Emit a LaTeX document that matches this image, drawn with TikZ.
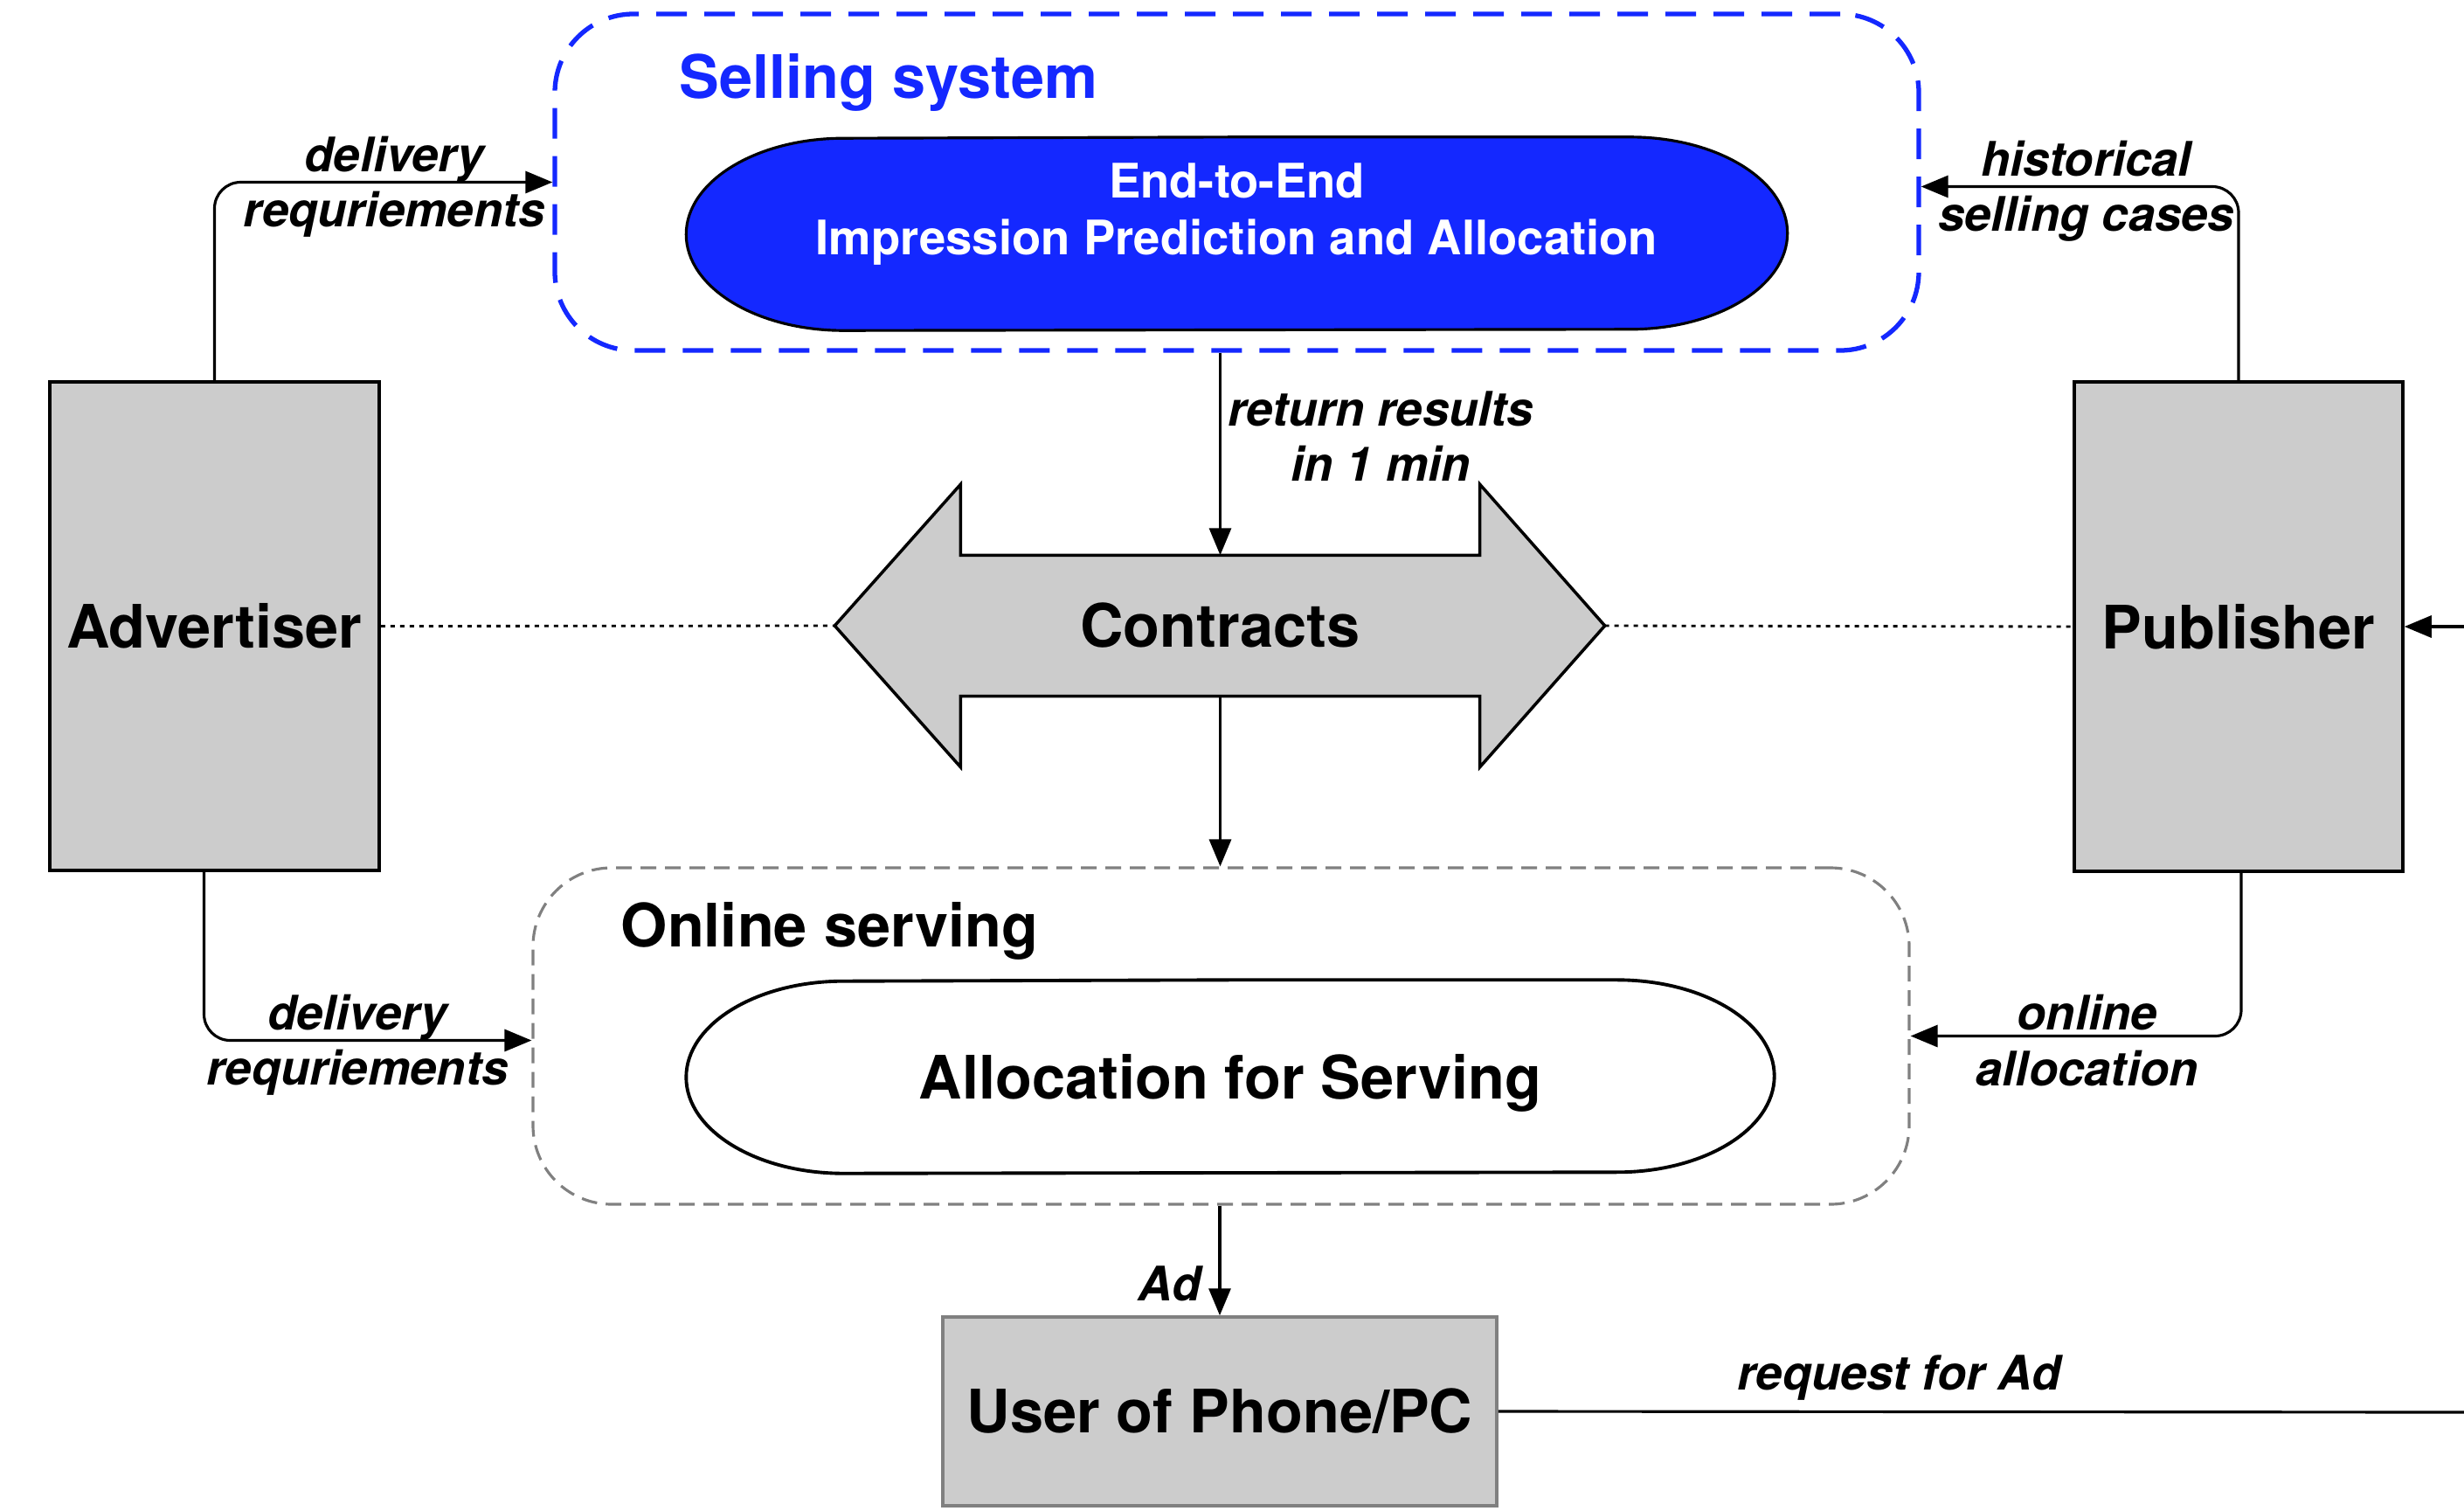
\documentclass[tikz,border=0pt]{standalone}
\usepackage{fontspec}
\setmainfont{TeX Gyre Heros}
\usepackage{tikz}
\usetikzlibrary{arrows.meta,backgrounds}
\definecolor{sellblue}{RGB}{20,40,255}
\definecolor{boxgray}{RGB}{204,204,204}
\newcommand{\bigfont}{\fontsize{19.5}{23}\selectfont\bfseries}
\newcommand{\midfont}{\fontsize{15.5}{18.6}\selectfont\bfseries}
\newcommand{\lblfont}{\fontsize{15.5}{18}\selectfont\bfseries\itshape}
% capsule round a node: #1 node, #2 options
\newcommand{\capsule}[2]{%
    \draw[#2] (#1.north) -- ([xshift=-1.8cm]#1.north east)
        arc[start angle=90, end angle=-90, x radius=1.8cm, y radius=1.1cm]
        -- ([xshift=1.8cm]#1.south west)
        arc[start angle=270, end angle=90, x radius=1.8cm, y radius=1.1cm] -- cycle;}
\tikzset{
    party/.style={draw, fill=boxgray, line width=1pt, font=\bigfont, inner sep=0pt}, % grey boxes
    sysbox/.style={rounded corners=0.9cm, inner sep=0pt}, % dashed frames
    flow/.style={-{Triangle[length=0.31cm, width=0.25cm]}, line width=0.9pt, rounded corners=0.3cm},
    lbl/.style={font=\lblfont, align=center, inner sep=0pt, yshift=-0.05cm},
    dotline/.style={line width=0.8pt, dash pattern=on 0.05cm off 0.06cm}
}

\begin{document}
\begin{tikzpicture}
    \useasboundingbox (0,0) rectangle (28.2,-17.29);

    \node[sysbox, draw=sellblue, line width=1.5pt, dash pattern=on 0.35cm off 0.2cm, minimum width=15.61cm, minimum height=3.85cm] (sell) at (14.155,-2.085) {};
    \node[anchor=west, inner sep=0pt, font=\bigfont, text=sellblue] (selltitle) at (7.77,-0.94) {Selling system};
    \node[inner sep=0pt, minimum width=12.59cm, minimum height=2.2cm] (pred) at (14.155,-2.675) {};
    \node[font=\midfont, text=white, align=center, inner sep=0pt] (predtxt) at (14.155,-2.45) {End-to-End\\Impression Prediction and Allocation};

    \node[sysbox, draw=gray, line width=0.9pt, dash pattern=on 0.18cm off 0.1cm, minimum width=15.75cm, minimum height=3.85cm] (online) at (13.975,-11.855) {};
    \node[anchor=west, inner sep=0pt, font=\bigfont] (onlinetitle) at (7.10,-10.65) {Online serving};
    \node[font=\bigfont, inner sep=0pt, text depth=0pt, minimum width=12.44cm, minimum height=2.2cm] (alloc) at (14.08,-12.32) {Allocation for Serving};

    \node[party, minimum width=3.77cm, minimum height=5.59cm] (adv) at (2.455,-7.165) {Advertiser};
    \node[party, minimum width=3.76cm, minimum height=5.6cm] (pub) at (25.62,-7.17) {Publisher};
    \node[party, draw=gray, minimum width=6.34cm, minimum height=2.16cm] (user) at (13.96,-16.15) {User of Phone/PC};
    \node[font=\bigfont, inner sep=0pt, minimum width=5.93cm, minimum height=1.6cm] (contracts) at (13.965,-7.16) {Contracts};

    \coordinate (ltip) at ([xshift=-1.44cm]contracts.west);
    \coordinate (rtip) at ([xshift=1.43cm]contracts.east);
    \coordinate (rimtop) at (28.2,-7.17);
    \coordinate (rimbot) at (28.2,-16.16);

    \begin{pgfonlayer}{background}
        \capsule{pred}{fill=sellblue, line width=0.9pt}
        \capsule{alloc}{fill=white, line width=1.1pt}
        \filldraw[fill=boxgray, line width=1pt] (contracts.north west) -- ([yshift=0.81cm]contracts.north west) -- (ltip)
            -- ([yshift=-0.81cm]contracts.south west) -- (contracts.south west) -- (contracts.south east)
            -- ([yshift=-0.81cm]contracts.south east) -- (rtip) -- ([yshift=0.81cm]contracts.north east)
            -- (contracts.north east) -- cycle;
    \end{pgfonlayer}

    \draw[dotline] (adv.east) -- (ltip);
    \draw[dotline] (rtip) -- (pub.west);

    \draw[flow] (adv.north) |- node[lbl, pos=0.766] (advsell) {delivery\\requriements} (sell.west);
    \draw[flow] (pub.north) |- node[lbl, pos=0.74] (pubsell) {historical\\selling cases} ([yshift=-0.05cm]sell.east);
    \draw[flow] ([xshift=-0.12cm]adv.south) |- node[lbl, pos=0.734] (advonline) {delivery\\requriements} ([yshift=-0.05cm]online.west);
    \draw[flow] ([xshift=0.03cm]pub.south) |- node[lbl, pos=0.733] (puponline) {online\\allocation} (online.east);

    \draw[flow] (contracts.north |- sell.south) -- node[lbl, right=0.07cm, pos=0.39] (ret) {return results\\in 1 min} (contracts.north);
    \draw[flow] (contracts.south) -- (contracts.south |- online.north);
    \draw[flow] (user.north |- online.south) -- node[lbl, left=0.2cm, pos=0.67] (adlbl) {Ad} (user.north);
    \draw[line width=0.9pt] (user.east) -- node[lbl, above=0.16cm, pos=0.415] (reqlbl) {request for Ad} (rimbot);
    \draw[flow] (rimtop) -- (pub.east);
\end{tikzpicture}
\end{document}
